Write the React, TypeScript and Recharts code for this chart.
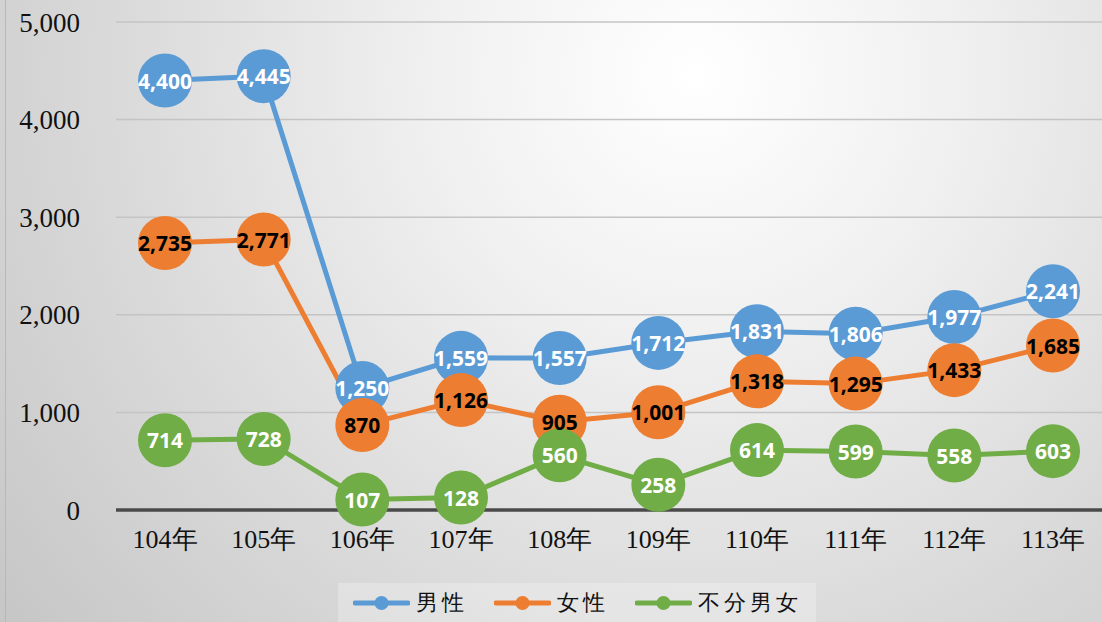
import React from "react";
import { LineChart, Line, XAxis, YAxis, CartesianGrid, Legend, LabelList } from "recharts";

const categories = ["104年", "105年", "106年", "107年", "108年", "109年", "110年", "111年", "112年", "113年"];
const male = [4400, 4445, 1250, 1559, 1557, 1712, 1831, 1806, 1977, 2241];
const female = [2735, 2771, 870, 1126, 905, 1001, 1318, 1295, 1433, 1685];
const unisex = [714, 728, 107, 128, 560, 258, 614, 599, 558, 603];
const yTicks = [0, 1000, 2000, 3000, 4000, 5000];

const seriesDefs = [
  { key: "male", name: "男性", color: "#5b9bd5", labelColor: "#ffffff" },
  { key: "female", name: "女性", color: "#ed7d31", labelColor: "#000000" },
  { key: "unisex", name: "不分男女", color: "#70ad47", labelColor: "#ffffff" },
];

const data = categories.map((c, i) => ({ cat: c, male: male[i], female: female[i], unisex: unisex[i] }));

const fmt = (v: number) => v.toLocaleString("en-US");

const makeLabel = (color: string) => (props: any) => {
  const { x, y, value } = props;
  return (
    <text x={x} y={y} textAnchor="middle" dominantBaseline="central" fill={color}
      style={{ fontFamily: "'Open Sans', sans-serif", fontWeight: 700, fontSize: 21 }}>
      {fmt(value)}
    </text>
  );
};

const LegendContent = () => (
  <div style={{ display: "flex", alignItems: "center", justifyContent: "center", height: 39, background: "rgba(255,255,255,0.25)" }}>
    {seriesDefs.map((s, i) => (
      <div key={s.key} style={{ display: "flex", alignItems: "center", marginLeft: i === 0 ? 0 : 26 }}>
        <svg width={57} height={16} style={{ display: "block" }}>
          <line x1={2} y1={8} x2={55} y2={8} stroke={s.color} strokeWidth={5} strokeLinecap="round" />
          <circle cx={28.5} cy={8} r={7} fill={s.color} />
        </svg>
        <span style={{ marginLeft: 6, fontFamily: "'Liberation Serif', serif", fontSize: 22, letterSpacing: 4, color: "#111" }}>{s.name}</span>
      </div>
    ))}
  </div>
);

export default function App() {
  return (
    <div style={{ position: "absolute", left: 0, top: 0, width: 1102, height: 622, overflow: "hidden",
      background: "radial-gradient(circle at 63% 12%, #ffffff 0%, #f0f0f0 30%, #dadada 65%, #c6c6c6 100%)" }}>
      <div style={{ position: "absolute", left: 5, top: 0, width: 1, height: 622, background: "#b8b8b8" }} />
      <LineChart width={1102} height={622} data={data} margin={{ top: 22, right: 0, left: 0, bottom: 82 }}>
        <CartesianGrid horizontal vertical={false} stroke="#c4c4c4" strokeWidth={1.5} />
        <XAxis dataKey="cat" height={30} axisLine={{ stroke: "#4a4a4a", strokeWidth: 3.5 }} tickLine={false}
          tickSize={0} tickMargin={20} interval={0} padding={{ left: 49, right: 49 }}
          tick={{ fill: "#111", fontSize: 26, fontFamily: "'Liberation Serif', serif" }} />
        <YAxis width={116} domain={[0, 5000]} ticks={yTicks} axisLine={false} tickLine={false}
          tickSize={0} tickMargin={36} tickFormatter={fmt}
          tick={{ fill: "#111", fontSize: 27, fontFamily: "'Liberation Serif', serif" }} />
        <Legend layout="horizontal" verticalAlign="middle" align="center" content={<LegendContent />}
          wrapperStyle={{ top: 583, left: 338, width: 478, height: 39 }} />
        {seriesDefs.map((s) => (
          <Line key={s.key} dataKey={s.key} name={s.name} stroke={s.color} strokeWidth={5}
            dot={{ r: 27, fill: s.color, stroke: s.color, strokeWidth: 0 }} activeDot={false}
            isAnimationActive={false}>
            <LabelList dataKey={s.key} content={makeLabel(s.labelColor)} />
          </Line>
        ))}
      </LineChart>
    </div>
  );
}
